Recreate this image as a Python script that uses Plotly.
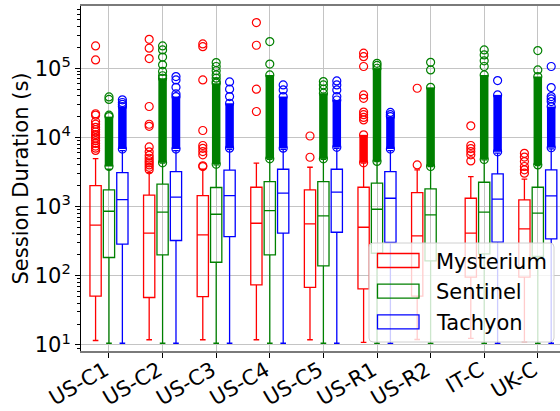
import plotly.graph_objects as go

categories = ["US-C1", "US-C2", "US-C3", "US-C4", "US-C5", "US-R1", "US-R2", "IT-C", "UK-C"]
series_names = ["Mysterium", "Sentinel", "Tachyon"]
series_colors = ["#ff0000", "#008000", "#0000ff"]

# ---- Mysterium ----
mys_low = [11.6, 11.9, 11.9, 11.9, 11.9, 10.9, 12.0, 12.5, 11.2]
mys_q1 = [51, 48.6, 50, 74, 68, 64.7, 51, 96, 96]
mys_med = [539, 413, 391, 575, 562, 503, 378, 413, 477]
mys_q3 = [2015, 1462, 1445, 1905, 1746, 1905, 1597, 1321, 1250]
mys_up = [4950, 3100, 3470, 4240, 3710, 4240, 3400, 2720, 2490]
mys_dense_lo = [None, None, None, None, None, 4300, None, None, None]
mys_dense_hi = [None, None, None, None, None, 10900, None, None, None]
mys_out = [
    [6500, 7000, 7500, 8200, 9000, 9800, 10500, 11000, 12000, 13000, 14000, 15500, 17000, 21000, 22000, 132000, 210000],
    [3400, 3700, 4000, 4300, 4600, 5000, 5500, 6200, 7300, 14500, 15500, 28000, 138000, 195000, 262000],
    [3790, 3900, 5600, 6250, 6970, 7650, 12600, 67800, 205000, 225000],
    [23700, 49800, 215000, 457000],
    [5170, 10500],
    [17900, 19500, 21300, 23300, 36800, 41200, 106000, 147000, 165000],
    [4010, 51400],
    [4580, 5600, 6250, 6900, 7650, 14700],
    [3040, 3400, 3800, 4480, 5200, 5900],
]

# ---- Sentinel ----
sen_low = [10.6, 10.6, 10.6, 10.6, 10.6, 10.6, 10.6, 10.6, 10.6]
sen_q1 = [184, 201, 157, 201, 139, 212, 164, 207, 190]
sen_med = [857, 830, 776, 877, 734, 916, 760, 830, 804]
sen_q3 = [1746, 2110, 1890, 2300, 2300, 2180, 1800, 2250, 1905]
sen_up = [3470, 4240, 4010, 4840, 4840, 4480, 3790, 4730, 3920]
sen_dense_lo = [3800, 4300, 4100, 4900, 4900, 4500, 3800, 4800, 4000]
sen_dense_hi = [20000, 71700, 60700, 80000, 43600, 100000, 53000, 80000, 75900]
sen_out = [
    [21000, 35500, 38500],
    [78000, 90000, 112000, 145000, 184000, 210000],
    [64000, 72000, 80000, 92000, 106000, 121000],
    [115000, 243000],
    [50000, 57400, 64100],
    [110000, 118000],
    [94600, 122000],
    [106000, 128000, 156000, 184000],
    [94600, 180000],
]

# ---- Tachyon (no data for US-R2) ----
tac_low = [10.6, 10.6, 10.6, 10.6, 10.6, 10.6, None, 10.6, 10.6]
tac_q1 = [287, 324, 369, 413, 426, 303, None, 306, 342]
tac_med = [1265, 1368, 1445, 1563, 1615, 1321, None, 1280, 1429]
tac_q3 = [3100, 3210, 3360, 3470, 3470, 3210, None, 2970, 3400]
tac_up = [6460, 6460, 6750, 6750, 6980, 6460, None, 5920, 6820]
tac_dense_lo = [6800, 6800, 7000, 7000, 7200, 6800, None, 6200, 7100]
tac_dense_hi = [28000, 39000, 31200, 39000, 34800, 20000, None, 41200, 27900]
tac_out = [
    [30000, 32000, 35000],
    [42500, 53000, 67800, 75900],
    [39000, 49800, 63500],
    [48700, 57400],
    [39000, 48700, 57400, 65600],
    [21300, 23000],
    [],
    [66400],
    [33000, 36000, 39000, 52600, 106000],
]

ytick_vals = [10, 100, 1000, 10000, 100000]
ytick_text = ["10<sup>1</sup>", "10<sup>2</sup>", "10<sup>3</sup>", "10<sup>4</sup>", "10<sup>5</sup>"]

series = [
    (mys_low, mys_q1, mys_med, mys_q3, mys_up, mys_dense_lo, mys_dense_hi, mys_out),
    (sen_low, sen_q1, sen_med, sen_q3, sen_up, sen_dense_lo, sen_dense_hi, sen_out),
    (tac_low, tac_q1, tac_med, tac_q3, tac_up, tac_dense_lo, tac_dense_hi, tac_out),
]
offsets = [-0.25, 0.0, 0.25]

# figure geometry (pixels)
W, H = 560, 411
ML, MR, MT, MB = 81, 0, 6, 60
PW, PH = W - ML - MR, H - MT - MB


def px_x(p):
    return (p - ML) / PW


def px_y(p):
    return (H - MB - p) / PH


fig = go.Figure()
box_traces = []
extra_traces = []
for s, (name, color) in enumerate(zip(series_names, series_colors)):
    low, q1, med, q3, up, dlo, dhi, outs = series[s]
    idx = [i for i in range(len(categories)) if q1[i] is not None]
    pos = [i + offsets[s] for i in idx]
    box_traces.append(go.Box(
        x=pos,
        q1=[q1[i] for i in idx], median=[med[i] for i in idx], q3=[q3[i] for i in idx],
        lowerfence=[low[i] for i in idx], upperfence=[up[i] for i in idx],
        orientation="v", width=0.21, whiskerwidth=0.5, boxpoints=False,
        line=dict(color=color, width=1.3), fillcolor="rgba(0,0,0,0)",
        name=name, showlegend=False, hoverinfo="skip",
    ))
    bx, by = [], []
    mx, my = [], []
    for i in range(len(categories)):
        p = i + offsets[s]
        if dlo[i] is not None:
            bx += [p, p, None]
            by += [dlo[i], dhi[i], None]
            mx += [p, p]
            my += [dlo[i], dhi[i]]
        for v in outs[i]:
            mx.append(p)
            my.append(v)
    extra_traces.append(go.Scatter(
        x=bx, y=by, mode="lines", line=dict(color=color, width=8.5),
        showlegend=False, hoverinfo="skip",
    ))
    extra_traces.append(go.Scatter(
        x=mx, y=my, mode="markers",
        marker=dict(symbol="circle-open", size=8, color=color, line=dict(width=1.2, color=color)),
        showlegend=False, hoverinfo="skip",
    ))

for t in box_traces:
    fig.add_trace(t)
for t in extra_traces:
    fig.add_trace(t)

# ---- legend drawn as shapes + text (matplotlib-like frame and patches) ----
lx0, lx1, ly0, ly1, rr = 369, 554, 243, 342, 4
path = (
    f"M {px_x(lx0 + rr)},{px_y(ly0)} L {px_x(lx1 - rr)},{px_y(ly0)} "
    f"Q {px_x(lx1)},{px_y(ly0)} {px_x(lx1)},{px_y(ly0 + rr)} "
    f"L {px_x(lx1)},{px_y(ly1 - rr)} Q {px_x(lx1)},{px_y(ly1)} {px_x(lx1 - rr)},{px_y(ly1)} "
    f"L {px_x(lx0 + rr)},{px_y(ly1)} Q {px_x(lx0)},{px_y(ly1)} {px_x(lx0)},{px_y(ly1 - rr)} "
    f"L {px_x(lx0)},{px_y(ly0 + rr)} Q {px_x(lx0)},{px_y(ly0)} {px_x(lx0 + rr)},{px_y(ly0)} Z"
)
fig.add_shape(type="path", path=path, xref="paper", yref="paper", layer="above",
              fillcolor="rgba(255,255,255,0.8)", line=dict(color="#d0d0d0", width=1))
row_centers = [260.5, 291.2, 321.8]
for name, color, yc in zip(series_names, series_colors, row_centers):
    fig.add_shape(type="rect", xref="paper", yref="paper", layer="above",
                  x0=px_x(377.5), x1=px_x(419), y0=px_y(yc - 7), y1=px_y(yc + 7),
                  line=dict(color=color, width=1.3), fillcolor="rgba(0,0,0,0)")
    fig.add_annotation(text=name, xref="paper", yref="paper", x=px_x(434), y=px_y(yc + 1),
                       xanchor="left", yanchor="middle", showarrow=False,
                       font=dict(family="DejaVu Sans", size=21, color="black"))

minor_vals = [m * 10 ** k for k in range(0, 6) for m in range(2, 10)]

fig.update_layout(
    width=W, height=H,
    margin=dict(l=ML, r=MR, t=MT, b=MB, autoexpand=False),
    paper_bgcolor="white", plot_bgcolor="white",
    font=dict(family="DejaVu Sans", size=21, color="black"),
    boxmode="overlay", showlegend=False,
    xaxis=dict(
        range=[-0.522, 8.414], tickmode="array",
        tickvals=list(range(len(categories))), ticktext=categories,
        tickangle=-30, ticks="outside", ticklen=5, tickcolor="black",
        ticklabelstandoff=-8, ticklabelshift=-4,
        showgrid=True, gridcolor="#c4c4c4", gridwidth=1.2,
        showline=True, linecolor="#7a7a7a", linewidth=2, mirror=True,
        zeroline=False, tickfont=dict(size=21),
    ),
    yaxis=dict(
        type="log", range=[0.913, 5.90], tickmode="array",
        tickvals=ytick_vals, ticktext=ytick_text,
        ticks="outside", ticklen=5, tickcolor="black", ticklabelstandoff=0,
        showgrid=True, gridcolor="#c4c4c4", gridwidth=1.2,
        showline=True, linecolor="black", linewidth=1, mirror=False,
        zeroline=False, tickfont=dict(size=21),
        minor=dict(tickmode="array", tickvals=minor_vals, ticks="outside", ticklen=3,
                   tickcolor="black", showgrid=False),
        title=dict(text="Session Duration (s)", font=dict(size=21), standoff=0),
    ),
)

fig.write_html("out.html", config={"displayModeBar": False},
               post_script="document.body.style.margin='0px';")
